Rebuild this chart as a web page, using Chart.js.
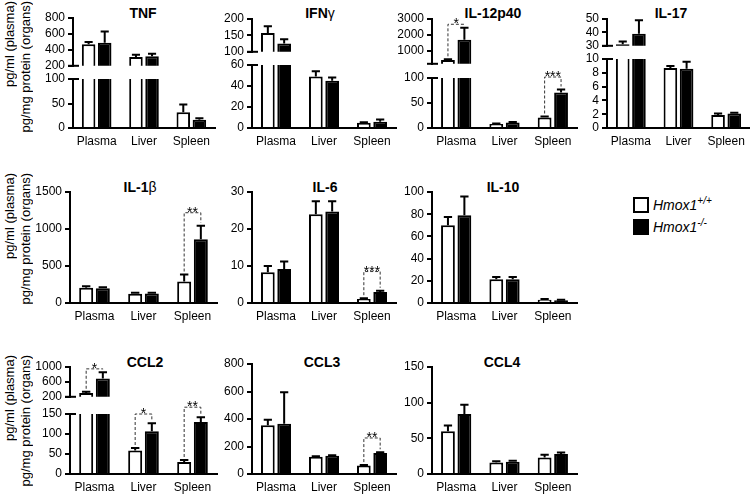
<!DOCTYPE html>
<html>
<head>
<meta charset="utf-8">
<script src="https://cdn.jsdelivr.net/npm/chart.js@4"></script>
<style>
  body { margin: 0; background: #fff; }
  #fig { position: relative; width: 750px; height: 498px; overflow: hidden; font-family: 'Liberation Sans', Arial, sans-serif; color: #000; }
  #fig canvas { position: absolute; }
  .ttl { position: absolute; font-weight: bold; font-size: 14px; line-height: 16px; transform: translateX(-50%); white-space: nowrap; }
  .ttl span { font-weight: normal; }
  .ylab { position: absolute; writing-mode: vertical-rl; transform: rotate(180deg); font-size: 13px; line-height: 15px; white-space: nowrap; }
  .box { position: absolute; width: 16px; height: 16px; box-sizing: border-box; border: 2px solid #000; }
  .leg { position: absolute; font-size: 14px; font-style: italic; line-height: 16px; white-space: nowrap; }
  .leg sup { font-size: 10px; vertical-align: 6px; line-height: 0; }
</style>
</head>
<body>
<div id="fig">
  <div class="ttl" style="left:143px;top:5px">TNF</div>
  <div class="ttl" style="left:320px;top:5px">IFN<span>γ</span></div>
  <div class="ttl" style="left:493px;top:5px">IL-12p40</div>
  <div class="ttl" style="left:671px;top:5px">IL-17</div>
  <div class="ttl" style="left:140px;top:179px">IL-1<span>β</span></div>
  <div class="ttl" style="left:325px;top:179px">IL-6</div>
  <div class="ttl" style="left:503px;top:179px">IL-10</div>
  <div class="ttl" style="left:145px;top:354px">CCL2</div>
  <div class="ttl" style="left:322px;top:354px">CCL3</div>
  <div class="ttl" style="left:502px;top:354px">CCL4</div>

  <div class="ylab" style="left:2px;top:1px">pg/ml (plasma)</div>
  <div class="ylab" style="left:18px;top:1px">pg/mg protein (organs)</div>
  <div class="ylab" style="left:2px;top:173px">pg/ml (plasma)</div>
  <div class="ylab" style="left:18px;top:173px">pg/mg protein (organs)</div>
  <div class="ylab" style="left:2px;top:355px">pg/ml (plasma)</div>
  <div class="ylab" style="left:18px;top:355px">pg/mg protein (organs)</div>

  <div class="box" style="left:633px;top:197px;background:#fff"></div>
  <div class="leg" style="left:653px;top:197px">Hmox1<sup>+/+</sup></div>
  <div class="box" style="left:633px;top:219px;background:#000"></div>
  <div class="leg" style="left:653px;top:219px">Hmox1<sup>-/-</sup></div>
</div>
<script>
const organs = ['Plasma', 'Liver', 'Spleen'];

// means and SEM, Hmox1+/+ (wt) and Hmox1-/- (ko)
const tnfWt = [470, 310, 32];
const tnfWtErr = [30, 30, 16];
const tnfKo = [490, 320, 17];
const tnfKoErr = [140, 30, 3];

const ifnWt = [157, 49, 5];
const ifnWtErr = [21, 5, 0.5];
const ifnKo = [125, 45, 6];
const ifnKoErr = [13, 3, 2];

const il12Wt = [440, 8, 21];
const il12WtErr = [40, 1, 2];
const il12Ko = [1700, 11, 71];
const il12KoErr = [750, 1, 6];

const il17Wt = [31.2, 8.7, 1.9];
const il17WtErr = [2, 0.3, 0.2];
const il17Ko = [39, 8.6, 2.1];
const il17KoErr = [10, 1, 0.1];

const il1bWt = [205, 125, 290];
const il1bWtErr = [20, 12, 95];
const il1bKo = [200, 130, 860];
const il1bKoErr = [12, 8, 185];

const il6Wt = [8.3, 24, 1.1];
const il6WtErr = [1.7, 3.5, 0.2];
const il6Ko = [9.2, 24.7, 3.0];
const il6KoErr = [2.0, 2.8, 0.3];

const il10Wt = [70, 21.5, 3];
const il10WtErr = [7.5, 2, 0.5];
const il10Ko = [79, 21.5, 2.5];
const il10KoErr = [17, 2, 0.4];

const ccl2Wt = [300, 59, 30];
const ccl2WtErr = [35, 6, 5];
const ccl2Ko = [690, 107, 130];
const ccl2KoErr = [170, 20, 12];

const ccl3Wt = [355, 125, 62];
const ccl3WtErr = [40, 5, 3];
const ccl3Ko = [365, 133, 152];
const ccl3KoErr = [230, 4, 6];

const ccl4Wt = [60, 16, 23];
const ccl4WtErr = [8, 2, 4];
const ccl4Ko = [84, 17, 28];
const ccl4KoErr = [13, 1.5, 2];

// tick labels (Lo = lower segment, Hi = upper segment of broken axes)
const tnfTicksLo = [0, 50, 100];
const tnfTicksHi = [200, 400, 600, 800];
const ifnTicksLo = [0, 20, 40, 60];
const ifnTicksHi = [100, 150, 200];
const il12TicksLo = [0, 50, 100];
const il12TicksHi = [1000, 2000, 3000];
const il17TicksLo = [0, 2, 4, 6, 8, 10];
const il17TicksHi = [30, 40, 50];
const il1bTicks = [0, 500, 1000, 1500];
const il6Ticks = [0, 10, 20, 30];
const il10Ticks = [0, 20, 40, 60, 80, 100];
const ccl2TicksLo = [0, 50, 100, 150];
const ccl2TicksHi = [200, 600, 1000];
const ccl3Ticks = [0, 200, 400, 600, 800];
const ccl4Ticks = [0, 50, 100, 150];

// bottom of the upper segment
const tnfHiMin = 200, ifnHiMin = 100, il12HiMin = 200, il17HiMin = 30, ccl2HiMin = 200;

// significance brackets
const sigPanel = ['il12', 'il12', 'il1b', 'il6', 'ccl2', 'ccl2', 'ccl2', 'ccl3'];
const sigOrgan = [0, 2, 2, 2, 0, 1, 2, 2];
const sigStars = ['*', '***', '**', '***', '*', '*', '**', '**'];
const sigLevel = [2670, 102, 1220, 8.5, 950, 150, 167, 262];

const YW = 40, PT = 26, PB = 10, PR = 8, XH = 24;
const font = {family: "'Liberation Sans', Arial, sans-serif", size: 12};

const errPlugin = {
  id: 'errbars',
  afterDatasetsDraw(chart) {
    const ctx = chart.ctx, y = chart.scales.y;
    ctx.save();
    ctx.strokeStyle = '#000';
    ctx.lineWidth = 2;
    chart.data.datasets.forEach((ds, i) => {
      chart.getDatasetMeta(i).data.forEach((bar, j) => {
        const v = ds.data[j];
        if (v < y.min || v > y.max) return;
        const y0 = y.getPixelForValue(v), y1 = y.getPixelForValue(v + ds.errs[j]);
        const cw = bar.width * 0.3;
        ctx.beginPath();
        ctx.moveTo(bar.x, y0);
        ctx.lineTo(bar.x, y1);
        ctx.moveTo(bar.x - cw, y1);
        ctx.lineTo(bar.x + cw, y1);
        ctx.stroke();
      });
    });
    ctx.restore();
  }
};

const sigPlugin = {
  id: 'sig',
  afterDatasetsDraw(chart, args, opts) {
    const items = opts.items || [];
    const ctx = chart.ctx, y = chart.scales.y;
    const dw = chart.data.datasets[0], dk = chart.data.datasets[1];
    items.forEach(s => {
      const b0 = chart.getDatasetMeta(0).data[s.i], b1 = chart.getDatasetMeta(1).data[s.i];
      const t0 = y.getPixelForValue(dw.data[s.i] + dw.errs[s.i]) - 3;
      const t1 = y.getPixelForValue(dk.data[s.i] + dk.errs[s.i]) - 3;
      const ly = y.getPixelForValue(s.level);
      ctx.save();
      ctx.strokeStyle = '#333';
      ctx.lineWidth = 1;
      ctx.setLineDash([3, 2]);
      ctx.beginPath();
      ctx.moveTo(b0.x, t0);
      ctx.lineTo(b0.x, ly);
      ctx.lineTo(b1.x, ly);
      ctx.lineTo(b1.x, t1);
      ctx.stroke();
      ctx.fillStyle = '#000';
      ctx.font = "14px 'Liberation Sans', Arial, sans-serif";
      ctx.textAlign = 'center';
      ctx.textBaseline = 'alphabetic';
      ctx.fillText(s.stars, (b0.x + b1.x) / 2, ly + 4);
      ctx.restore();
    });
  }
};

// short cross line marking the axis break
const breakPlugin = {
  id: 'brk',
  afterDraw(chart, args, opts) {
    if (!opts.at) return;
    const a = chart.chartArea, ctx = chart.ctx;
    const yy = opts.at === 'top' ? a.top : a.bottom;
    ctx.save();
    ctx.strokeStyle = '#000';
    ctx.lineWidth = 2;
    ctx.beginPath();
    ctx.moveTo(a.left - 5, yy);
    ctx.lineTo(a.left + 6, yy);
    ctx.stroke();
    ctx.restore();
  }
};

function segment(g, d, top, bottom, min, max, ticks, withX, sigs, brk) {
  const cv = document.createElement('canvas');
  const w = YW + (g.rx - g.ax) + PR;
  const h = PT + (bottom - top) + (withX ? XH : 0) + PB;
  cv.width = w;
  cv.height = h;
  cv.style.left = (g.ax - YW) + 'px';
  cv.style.top = (top - PT) + 'px';
  document.getElementById('fig').appendChild(cv);
  new Chart(cv, {
    type: 'bar',
    data: {
      labels: organs,
      datasets: [
        {data: d.wt, errs: d.wtErr, backgroundColor: '#fff', borderColor: '#000', borderWidth: 2,
         borderSkipped: 'start', categoryPercentage: 0.68, barPercentage: 0.84},
        {data: d.ko, errs: d.koErr, backgroundColor: '#000', borderColor: '#000', borderWidth: 2,
         borderSkipped: 'start', categoryPercentage: 0.68, barPercentage: 0.84}
      ]
    },
    options: {
      responsive: false,
      animation: false,
      events: [],
      layout: {padding: {top: PT, bottom: PB, left: 0, right: PR}},
      plugins: {
        legend: {display: false},
        tooltip: {enabled: false},
        sig: {items: sigs},
        brk: {at: brk}
      },
      scales: {
        x: {
          display: withX,
          grid: {display: false, drawTicks: false},
          border: {display: true, color: '#000', width: 2},
          ticks: {font, color: '#000', padding: 6, maxRotation: 0, autoSkip: false},
          afterFit: s => { s.height = withX ? XH : 0; }
        },
        y: {
          min, max,
          afterFit: s => { s.width = YW; },
          afterBuildTicks: s => { s.ticks = ticks.map(v => ({value: v})); },
          grid: {drawOnChartArea: false, tickLength: 5, color: '#000', lineWidth: 2},
          border: {color: '#000', width: 2},
          ticks: {font, color: '#000', padding: 3, autoSkip: false, callback: v => v}
        }
      }
    },
    plugins: [errPlugin, sigPlugin, breakPlugin]
  });
}

function panel(key, g, wt, wtErr, ko, koErr, ticksLo, ticksHi, hiMin) {
  const d = {wt, wtErr, ko, koErr};
  const sigs = [];
  sigPanel.forEach((k, n) => {
    if (k === key) sigs.push({i: sigOrgan[n], stars: sigStars[n], level: sigLevel[n]});
  });
  const loMax = ticksLo[ticksLo.length - 1];
  if (ticksHi) {
    segment(g, d, g.hiTop, g.hiBot, hiMin, ticksHi[ticksHi.length - 1], ticksHi, false,
            sigs.filter(s => s.level >= hiMin), 'bottom');
    segment(g, d, g.top, g.base, 0, loMax, ticksLo, true,
            sigs.filter(s => s.level < hiMin), 'top');
  } else {
    segment(g, d, g.top, g.base, 0, loMax, ticksLo, true, sigs, null);
  }
}

panel('tnf', {ax: 73, rx: 215, base: 128, top: 79, hiBot: 66, hiTop: 18},
      tnfWt, tnfWtErr, tnfKo, tnfKoErr, tnfTicksLo, tnfTicksHi, tnfHiMin);
panel('ifn', {ax: 252, rx: 396, base: 128, top: 65, hiBot: 52, hiTop: 19},
      ifnWt, ifnWtErr, ifnKo, ifnKoErr, ifnTicksLo, ifnTicksHi, ifnHiMin);
panel('il12', {ax: 432, rx: 577, base: 128, top: 78, hiBot: 64, hiTop: 19},
      il12Wt, il12WtErr, il12Ko, il12KoErr, il12TicksLo, il12TicksHi, il12HiMin);
panel('il17', {ax: 607, rx: 750, base: 128, top: 59, hiBot: 46, hiTop: 19},
      il17Wt, il17WtErr, il17Ko, il17KoErr, il17TicksLo, il17TicksHi, il17HiMin);

panel('il1b', {ax: 70, rx: 217, base: 303, top: 192},
      il1bWt, il1bWtErr, il1bKo, il1bKoErr, il1bTicks);
panel('il6', {ax: 252, rx: 396, base: 303, top: 192},
      il6Wt, il6WtErr, il6Ko, il6KoErr, il6Ticks);
panel('il10', {ax: 432, rx: 577, base: 303, top: 192},
      il10Wt, il10WtErr, il10Ko, il10KoErr, il10Ticks);

panel('ccl2', {ax: 70, rx: 217, base: 474, top: 414, hiBot: 397, hiTop: 367},
      ccl2Wt, ccl2WtErr, ccl2Ko, ccl2KoErr, ccl2TicksLo, ccl2TicksHi, ccl2HiMin);
panel('ccl3', {ax: 252, rx: 396, base: 474, top: 364},
      ccl3Wt, ccl3WtErr, ccl3Ko, ccl3KoErr, ccl3Ticks);
panel('ccl4', {ax: 432, rx: 577, base: 474, top: 367},
      ccl4Wt, ccl4WtErr, ccl4Ko, ccl4KoErr, ccl4Ticks);
</script>
</body>
</html>
